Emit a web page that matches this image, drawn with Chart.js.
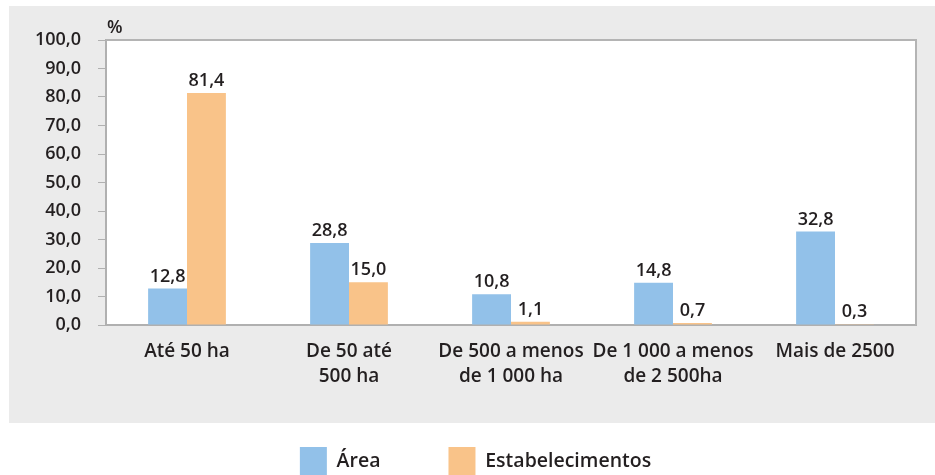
<!DOCTYPE html>
<html>
<head>
<meta charset="utf-8">
<script src="https://cdn.jsdelivr.net/npm/chart.js@4/dist/chart.umd.min.js"></script>
<style>
html,body{margin:0;padding:0;background:#fff;}
#c{display:block;}
</style>
</head>
<body>
<canvas id="c" width="935" height="475"></canvas>
<script>
const categories = [
  "Até 50 ha",
  ["De 50 até", "500 ha"],
  ["De 500 a menos", "de 1 000 ha"],
  ["De 1 000 a menos", "de 2 500ha"],
  "Mais de 2500"
];
const areaValues = [12.8, 28.8, 10.8, 14.8, 32.8];
const estabValues = [81.4, 15.0, 1.1, 0.7, 0.3];
const seriesNames = ["Área", "Estabelecimentos"];
const yTicks = [0, 10, 20, 30, 40, 50, 60, 70, 80, 90, 100];
const unitLabel = "%";

const TEXT = '#231f20';
const FONT = "'Open Sans', 'Liberation Sans', Arial, sans-serif";
const WEIGHT = 600;
const fmt = v => v.toFixed(1).replace('.', ',');

Chart.defaults.font.family = FONT;
Chart.defaults.font.weight = WEIGHT;
Chart.defaults.color = TEXT;

const decor = {
  id: 'decor',
  afterLayout(chart) {
    // let the two-line category labels extend below the fitted axis box
    const x = chart.scales.x;
    x.bottom = x.top + 75;
  },
  beforeDraw(chart) {
    const {ctx, chartArea: a} = chart;
    ctx.save();
    ctx.fillStyle = '#ebebeb';
    ctx.fillRect(9, 6, 926, 417);
    ctx.fillStyle = '#ffffff';
    ctx.fillRect(a.left, a.top, a.width, a.height);
    ctx.restore();
  },
  afterDatasetsDraw(chart) {
    const {ctx, chartArea: a} = chart;
    ctx.save();
    ctx.strokeStyle = '#b4b4b4';
    ctx.lineWidth = 2;
    ctx.beginPath();
    ctx.moveTo(a.left, a.top);
    ctx.lineTo(a.right, a.top);
    ctx.lineTo(a.right, a.bottom);
    ctx.stroke();
    ctx.fillStyle = TEXT;
    ctx.font = WEIGHT + " 18px " + FONT;
    ctx.textAlign = 'center';
    ctx.textBaseline = 'alphabetic';
    chart.data.datasets.forEach((ds, i) => {
      const meta = chart.getDatasetMeta(i);
      meta.data.forEach((bar, j) => {
        ctx.fillText(fmt(ds.data[j]), bar.x, bar.y - 7);
      });
    });
    ctx.textAlign = 'left';
    ctx.font = WEIGHT + " 18px " + FONT;
    ctx.fillText(unitLabel, a.left + 1, a.top - 7);
    ctx.restore();
  }
};

new Chart(document.getElementById('c'), {
  type: 'bar',
  data: {
    labels: categories,
    datasets: [
      {label: seriesNames[0], data: areaValues, backgroundColor: '#92c1e9', borderWidth: 0},
      {label: seriesNames[1], data: estabValues, backgroundColor: '#f9c389', borderWidth: 0}
    ]
  },
  options: {
    responsive: false,
    animation: false,
    categoryPercentage: 0.48,
    barPercentage: 1.0,
    layout: {padding: {top: 40, left: 35, right: 19, bottom: -10}},
    plugins: {
      tooltip: {enabled: false},
      legend: {
        position: 'bottom',
        labels: {
          boxWidth: 27,
          boxHeight: 28,
          padding: 68,
          color: TEXT,
          font: {size: 19.5, family: FONT, weight: WEIGHT}
        }
      }
    },
    scales: {
      x: {
        grid: {display: false, drawTicks: false},
        border: {display: true, color: '#b0b0b0', width: 2},
        ticks: {
          font: {size: 19, lineHeight: 1.27, weight: WEIGHT},
          color: TEXT,
          padding: 15,
          maxRotation: 0,
          autoSkip: false
        },
        afterFit(axis) { axis.height = 54; }
      },
      y: {
        min: 0,
        max: 100,
        afterBuildTicks(axis) { axis.ticks = yTicks.map(v => ({value: v})); },
        grid: {display: true, drawOnChartArea: false, drawTicks: true, tickLength: 8, color: '#b0b0b0'},
        border: {display: true, color: '#b0b0b0', width: 2},
        ticks: {
          font: {size: 18, weight: WEIGHT},
          color: TEXT,
          padding: 17,
          callback: v => fmt(v)
        },
        afterFit(axis) { axis.width = 71; }
      }
    }
  },
  plugins: [decor]
});
</script>
</body>
</html>
